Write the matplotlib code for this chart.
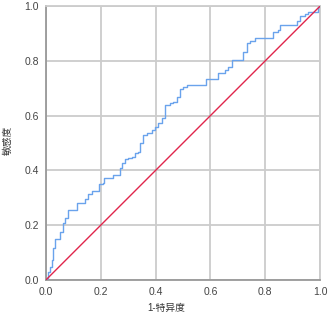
import matplotlib
matplotlib.use('Agg')
import matplotlib.pyplot as plt

plt.rcParams['font.family'] = ['Liberation Sans', 'Noto Sans CJK SC', 'DejaVu Sans']

# ROC curve points (1-specificity, sensitivity)
fpr = [0.000, 0.003, 0.008, 0.015, 0.021, 0.027, 0.033, 0.039, 0.051, 0.059,
       0.061, 0.069, 0.081, 0.100, 0.112, 0.130, 0.142, 0.154, 0.167, 0.185,
       0.193, 0.209, 0.212, 0.240, 0.246, 0.264, 0.270, 0.276, 0.288, 0.300,
       0.313, 0.325, 0.337, 0.343, 0.355, 0.368, 0.386, 0.398, 0.410, 0.422,
       0.434, 0.453, 0.465, 0.477, 0.489, 0.501, 0.514, 0.580, 0.584, 0.623,
       0.629, 0.653, 0.665, 0.678, 0.714, 0.720, 0.733, 0.745, 0.763, 0.824,
       0.830, 0.848, 0.854, 0.909, 0.915, 0.927, 0.945, 0.957, 0.988, 0.992,
       1.000]
tpr = [0.000, 0.006, 0.030, 0.049, 0.073, 0.117, 0.150, 0.150, 0.176, 0.176,
       0.207, 0.226, 0.255, 0.255, 0.280, 0.280, 0.296, 0.313, 0.325, 0.325,
       0.349, 0.353, 0.371, 0.371, 0.383, 0.383, 0.408, 0.426, 0.441, 0.444,
       0.450, 0.462, 0.468, 0.499, 0.529, 0.535, 0.547, 0.559, 0.572, 0.590,
       0.639, 0.645, 0.651, 0.669, 0.696, 0.703, 0.712, 0.712, 0.732, 0.732,
       0.754, 0.766, 0.778, 0.803, 0.803, 0.833, 0.864, 0.873, 0.882, 0.884,
       0.904, 0.912, 0.931, 0.931, 0.945, 0.964, 0.970, 0.977, 0.977, 0.998,
       1.000]
ref_line = [0.0, 1.0]
ticks = [0.0, 0.2, 0.4, 0.6, 0.8, 1.0]
tick_labels = ['0.0', '0.2', '0.4', '0.6', '0.8', '1.0']

fig = plt.figure(figsize=(3.3, 3.18), dpi=100)
ax = fig.add_axes([0.139, 0.1195, 0.831, 0.8615])

ax.plot(fpr, tpr, color='#6aa3ec', lw=1.0, drawstyle='steps-post', zorder=3)
ax.plot(ref_line, ref_line, color='#e0264c', lw=1.0, zorder=4)

ax.set_xlim(0, 1)
ax.set_ylim(0, 1)
ax.set_xticks(ticks)
ax.set_xticklabels(tick_labels)
ax.set_yticks(ticks)
ax.set_yticklabels(tick_labels)
ax.tick_params(length=0, labelsize=7.5, colors='#444444', pad=5)
ax.grid(True, color='#cccccc', lw=1.3)
ax.set_axisbelow(True)

for side in ['top', 'right']:
    ax.spines[side].set_color('#cccccc')
    ax.spines[side].set_linewidth(1.3)
for side in ['left', 'bottom']:
    ax.spines[side].set_color('#999999')
    ax.spines[side].set_linewidth(1.3)

ax.set_xlabel('1-特异度', fontsize=7, color='#333333')
ax.set_ylabel('敏感度', fontsize=7, color='#333333')
ax.xaxis.set_label_coords(0.44, -0.085)
ax.yaxis.set_label_coords(-0.12, 0.51)

fig.savefig('out.png', dpi=100)
